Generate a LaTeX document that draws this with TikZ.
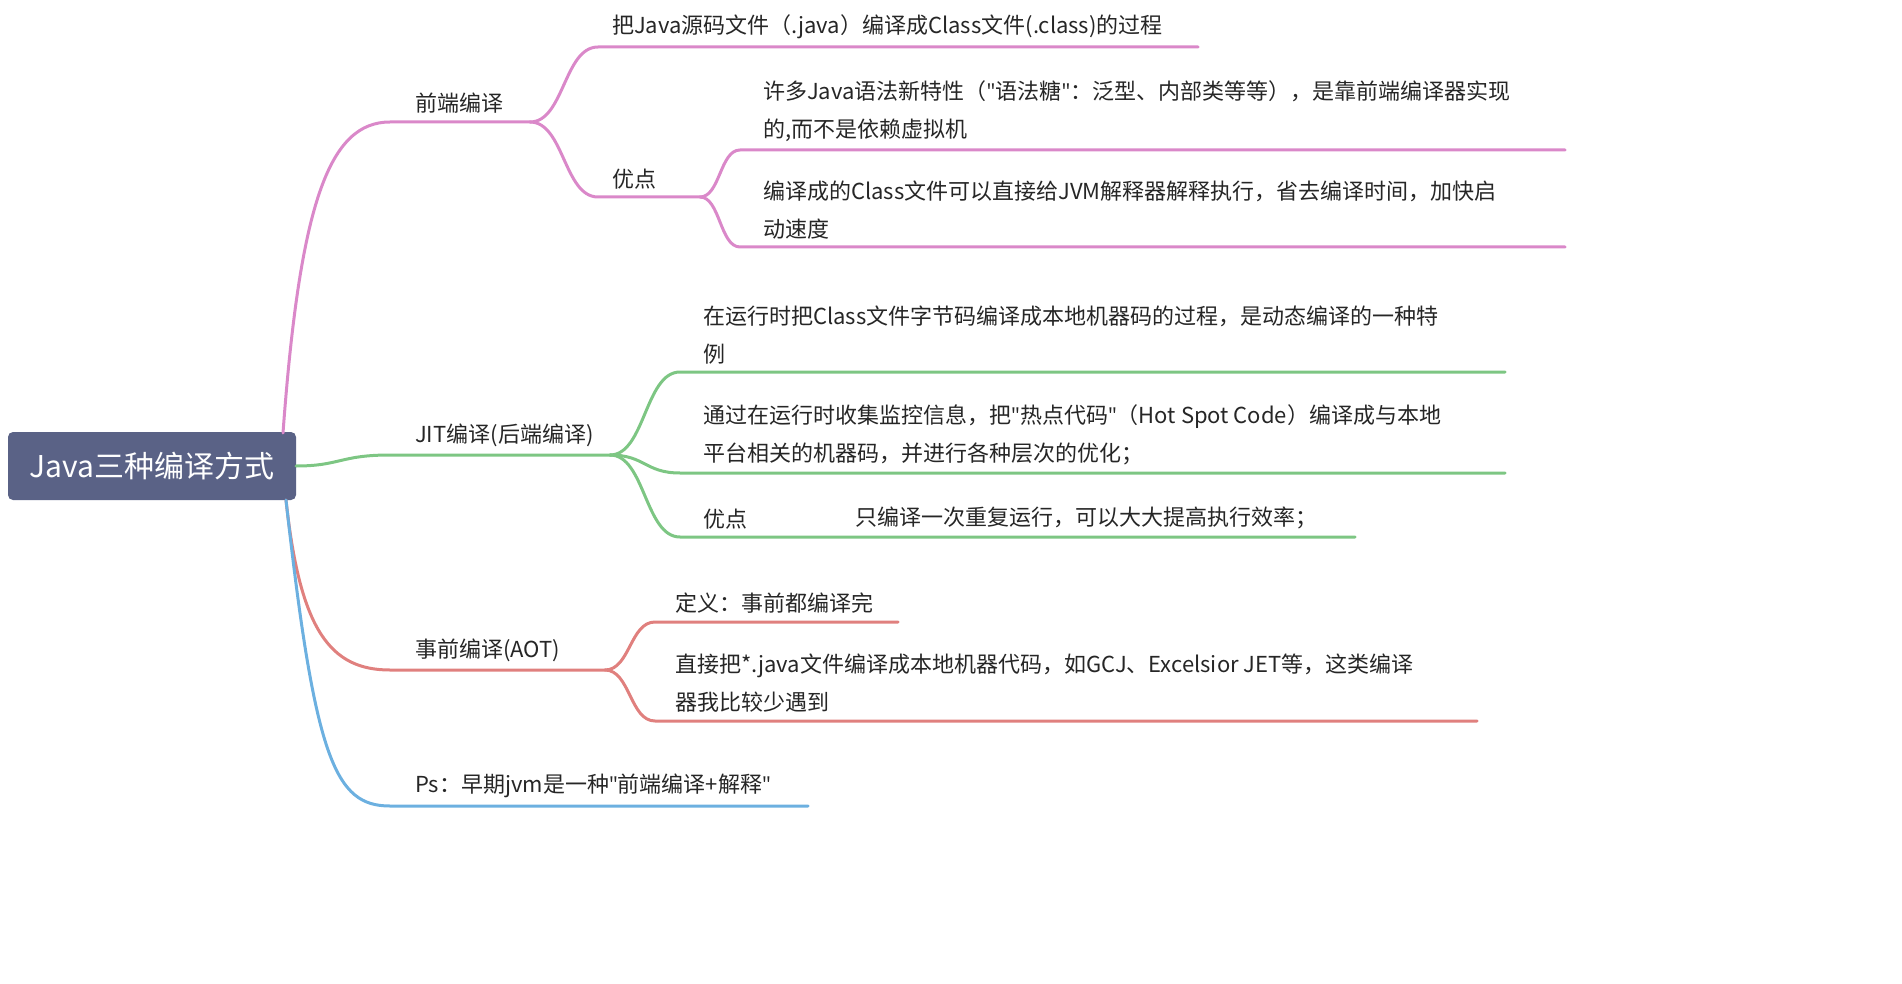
\documentclass[tikz,border=0pt]{standalone}
\usepackage{fontspec}
\setmainfont{Noto Sans CJK SC}
\newfontfamily\latq{Open Sans}
\newcommand\qq{{\latq"}}
\definecolor{cpink}{HTML}{DA88C9}
\definecolor{cgreen}{HTML}{7DC683}
\definecolor{cred}{HTML}{E0807E}
\definecolor{cblue}{HTML}{6CB0E0}
\definecolor{croot}{HTML}{5A6286}
\begin{document}
\begin{tikzpicture}[x=1pt,y=-1pt,
  lbl/.style={anchor=south west,inner sep=0pt,align=left,font=\fontsize{22}{38}\selectfont,text=black!85},
  br/.style={line width=3pt,line cap=round}]
\useasboundingbox (0,0) rectangle (1902,984);
\node[fill=croot,rounded corners=5pt,minimum width=288,minimum height=68,text=white,font=\fontsize{30}{34}\selectfont] (root) at (152,466) {Java三种编译方式};
\foreach \n/\x/\y in {a1/390/122,a2/530/122, b1/390/455,b2/610/455, c1/390/670,c2/605/670, d1/390/806,d2/808/806,
  a11/598/47,a12/1198/47, a21/598/197,a22/700/197, a211/740/150,a212/1565/150, a221/740/247,a222/1565/247,
  b11/680/372,b12/1505/372, b21/680/473,b22/1505/473, b31/680/537,b32/1355/537,
  c11/655/622,c12/898/622, c21/655/721,c22/1477/721}
  \coordinate (\n) at (\x,\y);
\coordinate (rP) at (283,433); \coordinate (rG) at (296,466); \coordinate (rR) at (286,500);
\draw[br,cpink] (rP) .. controls (300,200) and (330,122) .. (a1) -- (a2);
\draw[br,cgreen] (rG) .. controls (340,466) and (340,455) .. (b1) -- (b2);
\draw[br,cred] (rR) .. controls (300,630) and (330,670) .. (c1) -- (c2);
\draw[br,cblue] (rR) .. controls (315,760) and (335,806) .. (d1) -- (d2);
\draw[br,cpink] (a2) .. controls (564,122) and (564,47) .. (a11) -- (a12);
\draw[br,cpink] (a2) .. controls (564,122) and (564,197) .. (a21) -- (a22);
\draw[br,cpink] (a22) .. controls (720,197) and (720,150) .. (a211) -- (a212);
\draw[br,cpink] (a22) .. controls (720,197) and (720,247) .. (a221) -- (a222);
\draw[br,cgreen] (b2) .. controls (645,455) and (645,372) .. (b11) -- (b12);
\draw[br,cgreen] (b2) .. controls (645,455) and (645,473) .. (b21) -- (b22);
\draw[br,cgreen] (b2) .. controls (645,455) and (645,537) .. (b31) -- (b32);
\draw[br,cred] (c2) .. controls (630,670) and (630,622) .. (c11) -- (c12);
\draw[br,cred] (c2) .. controls (630,670) and (630,721) .. (c21) -- (c22);
\node[lbl] (ta) at (415,114) {前端编译};
\node[lbl] (tb) at (415,447) {JIT编译(后端编译)};
\node[lbl] (tc) at (415,662) {事前编译(AOT)};
\node[lbl] (td) at (415,798) {Ps：早期jvm是一种\qq 前端编译+解释\qq};
\node[lbl] (ta1) at (612,39) {把Java源码文件（.java）编译成Class文件(.class)的过程};
\node[lbl] (ta2) at (612,189) {优点};
\node[lbl] (ta21) at (763,142) {许多Java语法新特性（\qq 语法糖\qq：泛型、内部类等等），是靠前端编译器实现\\的,而不是依赖虚拟机};
\node[lbl] (ta22) at (763,239) {编译成的Class文件可以直接给JVM解释器解释执行，省去编译时间，加快启\\动速度};
\node[lbl] (tb1) at (703,364) {在运行时把Class文件字节码编译成本地机器码的过程，是动态编译的一种特\\例};
\node[lbl] (tb2) at (703,465) {通过在运行时收集监控信息，把\qq 热点代码\qq（Hot Spot Code）编译成与本地\\平台相关的机器码，并进行各种层次的优化；};
\node[lbl] (tb3) at (703,529) {优点};
\node[lbl] (tb31) at (855,529) {只编译一次重复运行，可以大大提高执行效率；};
\node[lbl] (tc1) at (675,614) {定义：事前都编译完};
\node[lbl] (tc2) at (675,713) {直接把*.java文件编译成本地机器代码，如GCJ、Excelsior JET等，这类编译\\器我比较少遇到};
\end{tikzpicture}
\end{document}
